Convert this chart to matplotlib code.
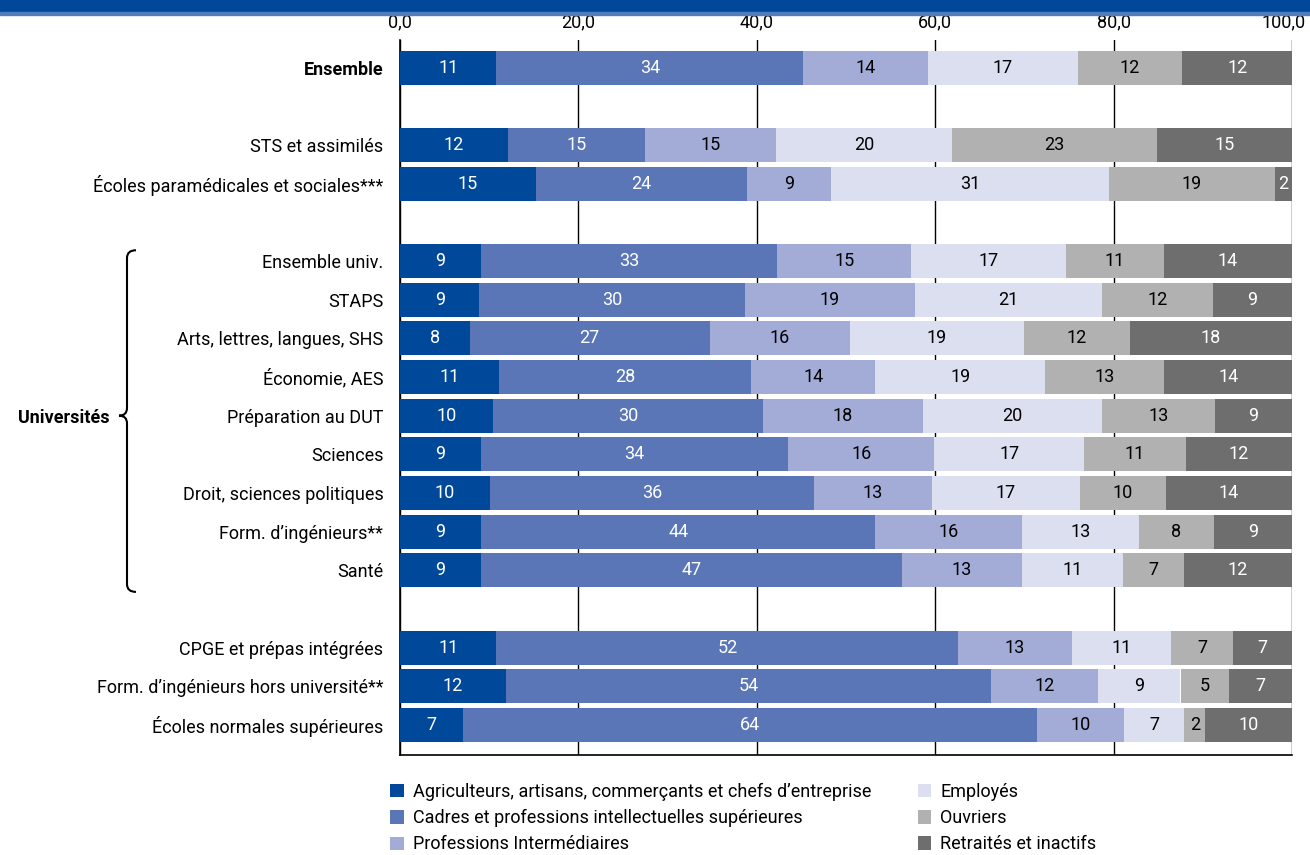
import matplotlib.pyplot as plt
import matplotlib.patches as mpatches
from matplotlib.path import Path
from matplotlib.transforms import blended_transform_factory, ScaledTranslation
import numpy as np

plt.rcParams["font.family"] = ["Roboto", "DejaVu Sans"]

# data (%), rows in display order; None = empty gap row
categories = [
    "Ensemble", None,
    "STS et assimilés", "Écoles paramédicales et sociales***", None,
    "Ensemble univ.", "STAPS", "Arts, lettres, langues, SHS", "Économie, AES",
    "Préparation au DUT", "Sciences", "Droit, sciences politiques",
    "Form. d\u2019ingénieurs**", "Santé", None,
    "CPGE et prépas intégrées", "Form. d\u2019ingénieurs hors université**",
    "Écoles normales supérieures",
]

agriculteurs = [10.8, 12.1, 15.2, 9.1, 8.9, 7.8, 11.1, 10.4, 9.1, 10.1, 9.1, 9.1, 10.8, 11.9, 7.1]
cadres = [34.4, 15.4, 23.7, 33.2, 29.8, 26.9, 28.3, 30.3, 34.4, 36.3, 44.2, 47.2, 51.8, 54.4, 64.3]
intermediaires = [14.0, 14.6, 9.4, 15.0, 19.0, 15.8, 13.9, 17.9, 16.4, 13.2, 16.4, 13.4, 12.7, 11.9, 9.8]
employes = [16.8, 19.8, 31.2, 17.4, 21.0, 19.4, 19.0, 20.1, 16.8, 16.6, 13.1, 11.4, 11.1, 9.3, 6.7]
ouvriers = [11.7, 23.0, 18.6, 10.9, 12.4, 11.9, 13.4, 12.7, 11.4, 9.7, 8.4, 6.8, 7.0, 5.4, 2.4]
retraites = [12.3, 15.1, 1.9, 14.4, 8.9, 18.2, 14.3, 8.6, 11.9, 14.1, 8.8, 12.1, 6.6, 7.1, 9.7]

series_names = [
    "Agriculteurs, artisans, commerçants et chefs d\u2019entreprise",
    "Cadres et professions intellectuelles supérieures",
    "Professions Intermédiaires",
    "Employés",
    "Ouvriers",
    "Retraités et inactifs",
]
colors = ["#00489a", "#5a76b6", "#a2acd7", "#dcdff0", "#b1b1b1", "#6e6e6e"]
text_colors = ["white", "white", "black", "black", "black", "white"]

series = [agriculteurs, cadres, intermediaires, employes, ouvriers, retraites]

ypos = [i for i, c in enumerate(categories) if c is not None]
labels = [c for c in categories if c is not None]

fig = plt.figure(figsize=(13.1, 8.55), dpi=100)
ax = fig.add_axes([400 / 1310, 100 / 855, 892 / 1310, 715 / 855])

left = np.zeros(len(ypos))
handles = []
for vals, col, tcol, name in zip(series, colors, text_colors, series_names):
    vals = np.array(vals)
    h = ax.barh(ypos, vals, left=left, height=0.88, color=col, label=name, zorder=3)
    handles.append(h)
    for y, l, v in zip(ypos, left, vals):
        ax.text(l + v / 2, y, f"{v:.0f}", ha="center", va="center",
                color=tcol, fontsize=13, zorder=4)
    left += vals

ax.set_xlim(0, 100)
ax.set_ylim(17.78, -0.72)
ax.set_xticks(np.arange(0, 101, 20))
ax.set_xticklabels([f"{t:.1f}".replace(".", ",") for t in np.arange(0, 101, 20)])
ax.xaxis.tick_top()
ax.tick_params(axis="x", length=0, labelsize=13, pad=6)
ax.grid(axis="x", color="black", lw=1, zorder=0)
ax.set_yticks(ypos)
ax.set_yticklabels(labels, fontsize=13)
ax.tick_params(axis="y", length=0, pad=12)
ax.get_yticklabels()[0].set_fontweight("bold")
for s in ["top", "right"]:
    ax.spines[s].set_visible(False)
ax.spines["left"].set_linewidth(1.2)
ax.spines["bottom"].set_linewidth(1.2)

# nudge the last top label so it stays inside the figure
last = ax.xaxis.get_majorticklabels()[-1]
last.set_transform(last.get_transform() + ScaledTranslation(-8 / 100, 0, fig.dpi_scale_trans))

# top band
fig.patches.append(mpatches.Rectangle((0, 1 - 12 / 855), 1, 12 / 855,
                                      transform=fig.transFigure, color="#00489a"))
fig.patches.append(mpatches.Rectangle((0, 1 - 15 / 855), 1, 3 / 855,
                                      transform=fig.transFigure, color="#4f7dbd"))

# brace for the universites group
tr = blended_transform_factory(fig.transFigure, ax.transData)
xv, xt, xe = 127 / 1310, 119 / 1310, 136 / 1310
y0, ym, y1 = 4.72, 9.0, 13.56
d = 0.2
verts = [(xe, y0), (xv, y0), (xv, y0 + d), (xv, ym - d), (xv, ym), (xt, ym),
         (xv, ym), (xv, ym + d), (xv, y1 - d), (xv, y1), (xe, y1)]
codes = [Path.MOVETO, Path.CURVE3, Path.CURVE3, Path.LINETO, Path.CURVE3, Path.CURVE3,
         Path.CURVE3, Path.CURVE3, Path.LINETO, Path.CURVE3, Path.CURVE3]
brace = mpatches.PathPatch(Path(verts, codes), transform=tr, fill=False,
                           lw=1.5, color="black", clip_on=False)
ax.add_patch(brace)
fig.text(110 / 1310, 1 - 418 / 855, "Universités", ha="right", va="center",
         fontsize=13, fontweight="bold")

fig.legend(handles=handles, loc="upper left", bbox_to_anchor=(390 / 1310, 1 - 783 / 855),
           ncol=2, frameon=False, fontsize=13, handlelength=0.75, handleheight=0.75,
           handletextpad=0.5, columnspacing=2.6, labelspacing=0.45, borderaxespad=0,
           borderpad=0)

fig.savefig("out.png", dpi=100)
